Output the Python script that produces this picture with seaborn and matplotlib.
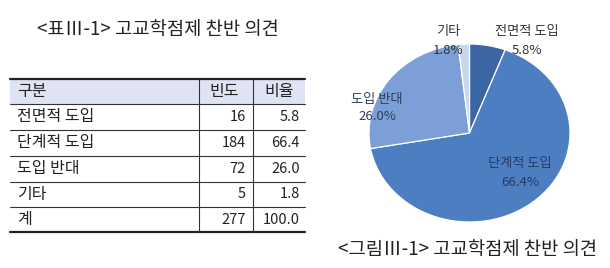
import matplotlib
matplotlib.use("Agg")
import matplotlib.pyplot as plt
import seaborn as sns

sns.set_theme(style="white")
plt.rcParams['font.family'] = ['Noto Sans CJK KR', 'DejaVu Sans']

# ---- data ----
categories = ["전면적 도입", "단계적 도입", "도입 반대", "기타"]
counts = [16, 184, 72, 5]
ratios = [5.8, 66.4, 26.0, 1.8]
total_label = "계"
total_count = 277
total_ratio = 100.0
header = ["구분", "빈도", "비율"]
table_title = "<표Ⅲ-1> 고교학점제 찬반 의견"
figure_title = "<그림Ⅲ-1> 고교학점제 찬반 의견"
slice_colors = sns.color_palette(["#3b66a3", "#4d7ec2", "#7b9fd6", "#c8d6ee"])

W, H = 610, 268
fig = plt.figure(figsize=(W / 100, H / 100), dpi=100)

# ---- pie ----
pl, pr, pt, pb = 369, 570, 44, 222
pax = fig.add_axes([pl / W, 1 - pb / H, (pr - pl) / W, (pb - pt) / H])
pax.pie(counts, colors=slice_colors, startangle=90, counterclock=False,
        wedgeprops=dict(edgecolor="white", linewidth=0.9))
pax.set_aspect("auto")
pax.set_xlim(-1, 1)
pax.set_ylim(-1, 1)
pax.axis("off")

# ---- full-figure pixel overlay for table and texts ----
tax = fig.add_axes([0, 0, 1, 1])
tax.set_xlim(0, W)
tax.set_ylim(H, 0)
tax.axis("off")
tax.patch.set_alpha(0)

tax.text(158, 29, table_title, ha="center", va="center", fontsize=13.5,
         color="#222222", fontweight="medium")

x0, x1, x2, x3 = 10, 199, 253, 305
row_edges = [79, 104, 130, 156, 182, 207, 232]
tax.fill_between([x0, x3], row_edges[0], row_edges[1], color="#dfe3f3", lw=0)
tax.plot([x0, x3], [row_edges[0]] * 2, color="#222222", lw=1.6)
tax.plot([x0, x3], [row_edges[-1]] * 2, color="#222222", lw=1.6)
for y in row_edges[1:-1]:
    tax.plot([x0, x3], [y, y], color="#333333", lw=0.8)
for x in (x1, x2):
    tax.plot([x, x], [row_edges[0], row_edges[-1]], color="#333333", lw=0.8)

fs = 11.5
fn = 10.5
tc = "#222222"
yc = (row_edges[0] + row_edges[1]) / 2
tax.text(17, yc, header[0], ha="left", va="center", fontsize=fs, color=tc)
tax.text(224, yc, header[1], ha="center", va="center", fontsize=fs, color=tc)
tax.text(279, yc, header[2], ha="center", va="center", fontsize=fs, color=tc)

rows = list(zip(categories, counts, ratios)) + [(total_label, total_count, total_ratio)]
for i, (name, c, r) in enumerate(rows):
    yc = (row_edges[i + 1] + row_edges[i + 2]) / 2
    tax.text(17, yc, name, ha="left", va="center", fontsize=fs, color=tc)
    tax.text(246, yc, f"{c}", ha="right", va="center", fontsize=fn, color=tc)
    tax.text(300, yc, f"{r:.1f}", ha="right", va="center", fontsize=fn, color=tc)

tax.text(468, 249, figure_title, ha="center", va="center", fontsize=13.5,
         color="#222222", fontweight="medium")

label_pos = [(527, 32), (520, 164), (377, 99), (448, 32)]
label_colors = ["#333333", "#253a63", "#2f3f5f", "#333333"]
for (name, r), (lx, ly), lc in zip(zip(categories, ratios), label_pos, label_colors):
    tax.text(lx, ly, name, ha="center", va="center", fontsize=9.5, color=lc)
    tax.text(lx, ly + 18, f"{r:.1f}%", ha="center", va="center", fontsize=9.5, color=lc)

fig.savefig("out.png", dpi=100)
